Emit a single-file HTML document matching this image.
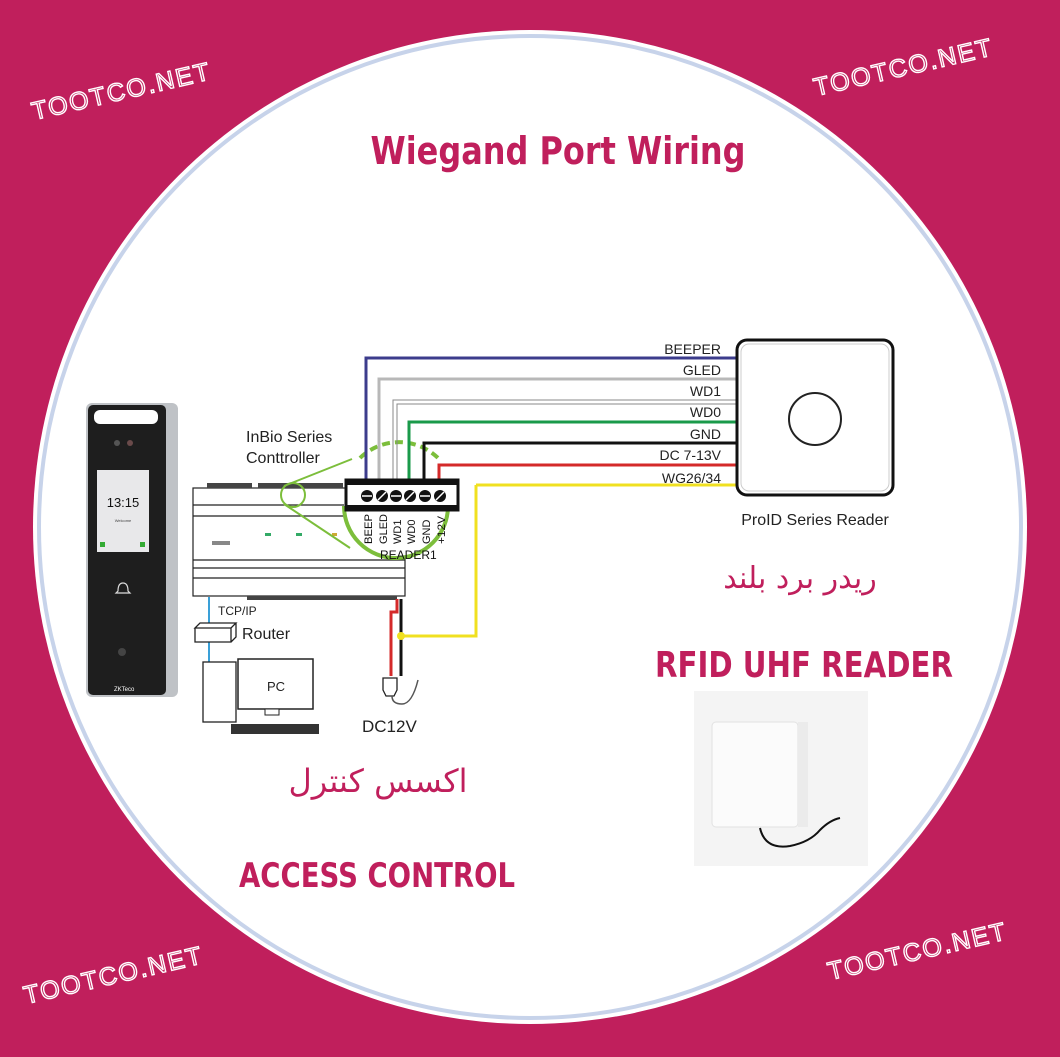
<!DOCTYPE html>
<html><head><meta charset="utf-8"><style>
html,body{margin:0;padding:0;background:#c01f5c;}
svg{display:block}
text{font-family:"Liberation Sans","Noto Sans CJK SC",sans-serif}
</style></head><body>
<svg width="1060" height="1057" viewBox="0 0 1060 1057" xmlns="http://www.w3.org/2000/svg">
<rect width="1060" height="1057" fill="#c01f5c"/>
<circle cx="530" cy="527" r="497" fill="#fff"/>
<circle cx="530" cy="527" r="491" fill="none" stroke="#c7d3ea" stroke-width="4"/>
<circle cx="530" cy="527" r="486" fill="#fff"/>
<!-- watermarks -->
<g font-family="Liberation Sans,sans-serif" font-size="25" fill="none" stroke="#fff" stroke-width="1.4" letter-spacing="2">
<text x="34" y="120" transform="rotate(-13 34 120)">TOOTCO.NET</text>
<text x="816" y="96" transform="rotate(-13 816 96)">TOOTCO.NET</text>
<text x="26" y="1004" transform="rotate(-13 26 1004)">TOOTCO.NET</text>
<text x="830" y="980" transform="rotate(-13 830 980)">TOOTCO.NET</text>
</g>
<!-- titles -->
<text x="558" y="164" text-anchor="middle" font-size="38" font-weight="bold" fill="#c01f5c" style="font-family:'DejaVu Sans',sans-serif" textLength="375" lengthAdjust="spacingAndGlyphs">Wiegand Port Wiring</text>
<text x="804" y="677" text-anchor="middle" font-size="36" font-weight="bold" fill="#c01f5c" style="font-family:'DejaVu Sans',sans-serif" textLength="298" lengthAdjust="spacingAndGlyphs">RFID UHF READER</text>
<text x="377" y="887" text-anchor="middle" font-size="34" font-weight="bold" fill="#c01f5c" style="font-family:'DejaVu Sans',sans-serif" textLength="276" lengthAdjust="spacingAndGlyphs">ACCESS CONTROL</text>
<text x="800" y="588" text-anchor="middle" font-size="30" fill="#c01f5c" style="font-family:'DejaVu Sans',sans-serif">ریدر برد بلند</text>
<text x="378" y="792" text-anchor="middle" font-size="32" fill="#c01f5c" style="font-family:'DejaVu Sans',sans-serif">اکسس کنترل</text>

<!-- face device -->
<rect x="86" y="403" width="92" height="294" rx="6" fill="#bfc2c6"/>
<rect x="88" y="405" width="78" height="290" rx="5" fill="#1e1e1e"/>
<rect x="94" y="410" width="64" height="14" rx="6" fill="#fff"/>
<circle cx="117" cy="443" r="3" fill="#555"/><circle cx="130" cy="443" r="3" fill="#6a4a4a"/>
<rect x="97" y="470" width="52" height="82" fill="#e8e8ea"/>
<text x="123" y="507" text-anchor="middle" font-size="13" fill="#111">13:15</text>
<text x="123" y="522" text-anchor="middle" font-size="4" fill="#444">Welcome</text>
<rect x="100" y="542" width="5" height="5" fill="#3a3"/><rect x="140" y="542" width="5" height="5" fill="#3a3"/>
<path d="M118 591 q0 -8 5 -8 q5 0 5 8 l2 2 h-14 z" fill="none" stroke="#ddd" stroke-width="1.2"/>
<circle cx="122" cy="652" r="4" fill="#444"/>
<text x="114" y="691" font-size="6" fill="#fff">ZKTeco</text>

<!-- controller -->
<g stroke="#222" fill="#fff" stroke-width="1.2">
<rect x="193" y="488" width="212" height="108"/>
<line x1="193" y1="505" x2="405" y2="505"/>
<line x1="193" y1="516" x2="405" y2="516"/>
<line x1="193" y1="560" x2="405" y2="560"/>
<line x1="193" y1="568" x2="405" y2="568"/>
<line x1="193" y1="578" x2="405" y2="578"/>
</g>
<g fill="#444"><rect x="207" y="483" width="45" height="5"/><rect x="258" y="483" width="85" height="5"/><rect x="247" y="596" width="150" height="4"/>
<rect x="212" y="541" width="18" height="4" fill="#888"/><rect x="265" y="533" width="6" height="3" fill="#3a6"/><rect x="296" y="533" width="6" height="3" fill="#3a6"/><rect x="332" y="533" width="5" height="3" fill="#ca3"/></g>
<!-- green callout -->
<g stroke="#7cbe3b" stroke-width="2" fill="none">
<circle cx="293" cy="495" r="12"/>
<line x1="284" y1="486" x2="352" y2="459"/>
<line x1="284" y1="504" x2="350" y2="548"/>
<path d="M360 458 A56 56 0 0 1 440 460" stroke-width="4" stroke-dasharray="8 5"/>
</g>
<circle cx="396" cy="506" r="52" fill="#fff"/>
<path d="M344 506 A52 52 0 1 0 448 506" fill="none" stroke="#7cbe3b" stroke-width="4"/>
<!-- wires -->
<g fill="none" stroke-width="3">
<path d="M366 488 V358 H740" stroke="#3c3c8c"/>
<path d="M379 488 V379 H740" stroke="#b8b8b8"/>
<path d="M393 488 V400 H740" stroke="#888" stroke-width="1"/>
<path d="M397 488 V404 H740" stroke="#888" stroke-width="1"/>
<path d="M409 488 V422 H740" stroke="#1a9a4a"/>
<path d="M424 488 V443 H740" stroke="#111"/>
<path d="M439 488 V465 H740" stroke="#d42a2a"/>
<path d="M476 485 H740" stroke="#f0e020"/>
<path d="M476 485 V636 H400" stroke="#f0e020"/>
<path d="M401 599 V676" stroke="#111"/>
<path d="M397 599 V612 H391 V676" stroke="#d42a2a"/>
<path d="M209 597 V680" stroke="#3aa0d8" stroke-width="2"/>
</g>
<circle cx="401" cy="636" r="4" fill="#f0e020"/>
<!-- terminal block -->
<rect x="346" y="480" width="112" height="30" fill="#fff" stroke="#111" stroke-width="3"/>
<rect x="346" y="480" width="112" height="5" fill="#111"/>
<rect x="346" y="505" width="112" height="5" fill="#111"/>
<g fill="#111"><circle cx="367" cy="496" r="6"/><circle cx="382" cy="496" r="6"/><circle cx="396" cy="496" r="6"/><circle cx="410" cy="496" r="6"/><circle cx="425" cy="496" r="6"/><circle cx="440" cy="496" r="6"/></g>
<g stroke="#fff" stroke-width="1.5"><line x1="362" y1="496" x2="372" y2="496"/><line x1="378" y1="500" x2="386" y2="492"/><line x1="391" y1="496" x2="401" y2="496"/><line x1="406" y1="500" x2="414" y2="492"/><line x1="420" y1="496" x2="430" y2="496"/><line x1="436" y1="500" x2="444" y2="492"/></g>
<g font-size="11" fill="#111">
<text transform="translate(372 544) rotate(-90)" textLength="30" lengthAdjust="spacingAndGlyphs">BEEP</text>
<text transform="translate(387 544) rotate(-90)" textLength="30" lengthAdjust="spacingAndGlyphs">GLED</text>
<text transform="translate(401 544) rotate(-90)">WD1</text>
<text transform="translate(415 544) rotate(-90)">WD0</text>
<text transform="translate(430 544) rotate(-90)">GND</text>
<text transform="translate(445 544) rotate(-90)" textLength="28" lengthAdjust="spacingAndGlyphs">+12V</text>
<text x="380" y="559" font-size="12">READER1</text>
</g>
<text x="246" y="442" font-size="16" fill="#222">InBio Series</text>
<text x="246" y="463" font-size="16" fill="#222">Conttroller</text>
<!-- labels on wires -->
<g font-size="14" fill="#222" text-anchor="end">
<text x="721" y="354">BEEPER</text><text x="721" y="375">GLED</text><text x="721" y="396">WD1</text>
<text x="721" y="417">WD0</text><text x="721" y="439">GND</text><text x="721" y="460">DC 7-13V</text><text x="721" y="483">WG26/34</text>
</g>
<!-- reader -->
<rect x="737" y="340" width="156" height="155" rx="10" fill="#fff" stroke="#111" stroke-width="3"/>
<rect x="741" y="344" width="148" height="147" rx="8" fill="none" stroke="#ccc" stroke-width="1"/>
<circle cx="815" cy="419" r="26" fill="none" stroke="#222" stroke-width="2"/>
<text x="815" y="525" font-size="16" fill="#222" text-anchor="middle">ProID Series Reader</text>
<!-- router / PC -->
<text x="218" y="615" font-size="12" fill="#222">TCP/IP</text>
<path d="M195 628 h36 l5 -5 h-36 z M195 628 v14 h36 v-14 M231 642 l5 -5 v-14" fill="#fff" stroke="#222" stroke-width="1.3"/>
<text x="242" y="639" font-size="16" fill="#222">Router</text>
<rect x="203" y="662" width="33" height="60" fill="#fff" stroke="#222" stroke-width="1.3"/>
<rect x="238" y="659" width="75" height="50" fill="#fff" stroke="#222" stroke-width="1.5"/>
<text x="276" y="691" font-size="13" fill="#222" text-anchor="middle">PC</text>
<rect x="231" y="724" width="88" height="10" fill="#333"/>
<rect x="265" y="709" width="14" height="6" fill="#fff" stroke="#222"/>
<!-- adapter -->
<path d="M383 678 h14 v12 l-3 6 h-8 l-3 -6 z" fill="#fff" stroke="#222" stroke-width="1.3"/>
<path d="M392 696 q0 8 10 8 q10 0 16 -24" fill="none" stroke="#555" stroke-width="1.5"/>
<text x="362" y="732" font-size="17" fill="#222">DC12V</text>
<!-- UHF reader photo -->
<rect x="694" y="691" width="174" height="175" fill="#f4f4f4"/>
<rect x="712" y="722" width="86" height="105" rx="4" fill="#fbfbfb" stroke="#e2e2e2"/>
<rect x="798" y="722" width="10" height="105" fill="#ebebeb"/>
<path d="M760 828 q5 22 30 18 q20 -4 30 -16 q10 -10 20 -12" fill="none" stroke="#111" stroke-width="2"/>
</svg>
</body></html>
